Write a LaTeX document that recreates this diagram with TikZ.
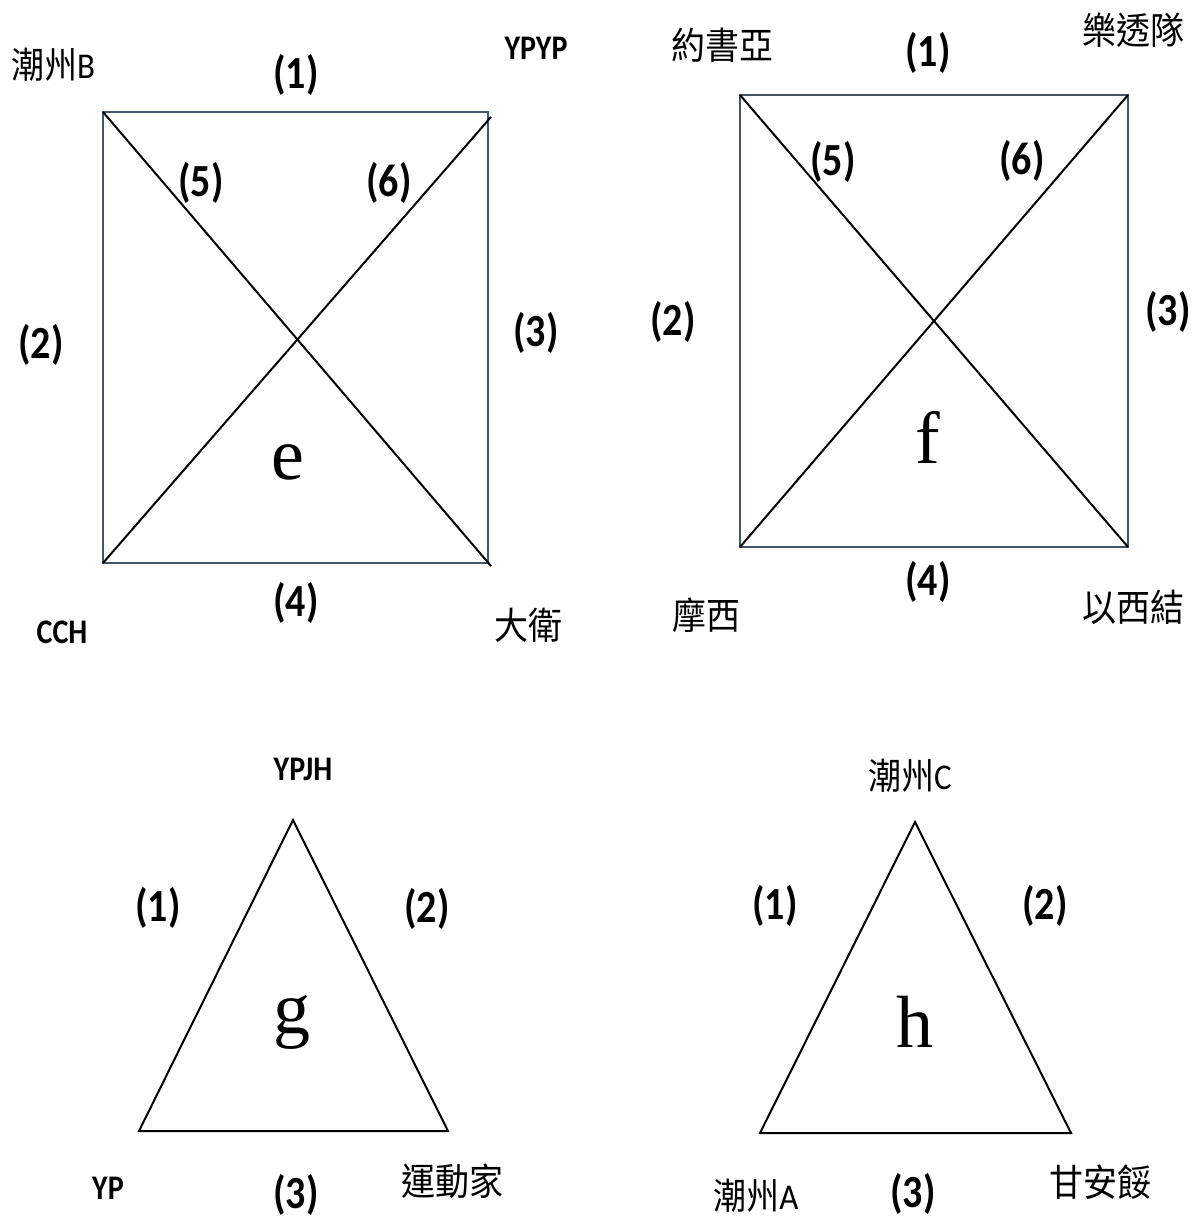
\documentclass[tikz,border=0pt]{standalone}
\usepackage{fontspec}
\setmainfont{Carlito}
\newfontfamily\cjk{Noto Sans CJK TC}
\newfontfamily\bigserif{Liberation Serif}
\definecolor{boxc}{HTML}{465468}
\begin{document}
\begin{tikzpicture}[x=1pt,y=-1pt,
  edge/.style={line width=2pt,black},
  boxedge/.style={line width=2pt,boxc},
  num/.style={inner sep=0pt,yscale=1.15,transform shape,font=\bfseries\fontsize{40}{44}\selectfont},
  vlab/.style={inner sep=0pt,yscale=1.15,transform shape,font=\bfseries\fontsize{30}{34}\selectfont},
  mlab/.style={inner sep=0pt,yscale=1.1,transform shape,font=\fontsize{33}{36}\selectfont},
  clab/.style={inner sep=0pt,yscale=1.1,transform shape,font=\cjk\fontsize{34}{36}\selectfont},
  big/.style={inner sep=0pt,font=\bigserif\fontsize{74}{78}\selectfont}]
\useasboundingbox (0,0) rectangle (1195,1220);
\fill[white] (0,0) rectangle (1195,1220);
% ---- square e ----
\coordinate (eTL) at (103,112);
\coordinate (eTR) at (488,112);
\coordinate (eBL) at (103,563);
\coordinate (eBR) at (488,563);
\coordinate (eTRx) at (491,117);
\coordinate (eBRx) at (491,566);
\draw[boxedge] (eTL) -- (eTR) -- (eBR) -- (eBL) -- cycle;
\draw[edge] (eTL) -- (eBRx);
\draw[edge] (eBL) -- (eTRx);
\node[mlab] (eA) at (53,65) {{\cjk 潮州}B};
\node[vlab] (eB) at (536,48) {YPYP};
\node[vlab] (eC) at (62,632) {CCH};
\node[clab] (eD) at (528,625) {大衛};
\node[num] (e1) at (296,75) {(1)};
\node[num] (e2) at (41,345) {(2)};
\node[num] (e3) at (536,333) {(3)};
\node[num] (e4) at (296,603) {(4)};
\node[num] (e5) at (201,183) {(5)};
\node[num] (e6) at (389,183) {(6)};
\node[big] (eL) at (288,462) {e};
% ---- square f ----
\coordinate (fTL) at (740,95);
\coordinate (fTR) at (1128,95);
\coordinate (fBL) at (740,547);
\coordinate (fBR) at (1128,547);
\draw[boxedge] (fTL) -- (fTR) -- (fBR) -- (fBL) -- cycle;
\draw[edge] (fTL) -- (fBR);
\draw[edge] (fBL) -- (fTR);
\node[clab] (fA) at (722,45) {約書亞};
\node[clab] (fB) at (1133,30) {樂透隊};
\node[clab] (fC) at (706,615) {摩西};
\node[clab] (fD) at (1133,607) {以西結};
\node[num] (f1) at (928,53) {(1)};
\node[num] (f2) at (673,322) {(2)};
\node[num] (f3) at (1168,312) {(3)};
\node[num] (f4) at (928,582) {(4)};
\node[num] (f5) at (833,162) {(5)};
\node[num] (f6) at (1022,161) {(6)};
\node[big] (fL) at (928,437) {f};
% ---- triangle g ----
\coordinate (gT) at (293,820);
\coordinate (gL) at (139,1131);
\coordinate (gR) at (448,1131);
\draw[edge,line join=miter] (gT) -- (gR) -- (gL) -- cycle;
\node[vlab] (gA) at (303,769) {YPJH};
\node[vlab] (gB) at (108,1188) {YP};
\node[clab] (gC) at (452,1181) {運動家};
\node[num] (g1) at (158,908) {(1)};
\node[num] (g2) at (427,909) {(2)};
\node[num] (g3) at (296,1195) {(3)};
\node[big] (gLet) at (292,1022) {g};
% ---- triangle h ----
\coordinate (hT) at (915,822);
\coordinate (hL) at (760,1133);
\coordinate (hR) at (1071,1133);
\draw[edge,line join=miter] (hT) -- (hR) -- (hL) -- cycle;
\node[mlab] (hA) at (910,776) {{\cjk 潮州}C};
\node[mlab] (hB) at (756,1196) {{\cjk 潮州}A};
\node[clab] (hC) at (1100,1182) {甘安餒};
\node[num] (h1) at (775,906) {(1)};
\node[num] (h2) at (1045,906) {(2)};
\node[num] (h3) at (913,1194) {(3)};
\node[big] (hLet) at (915,1022) {h};
\end{tikzpicture}
\end{document}
